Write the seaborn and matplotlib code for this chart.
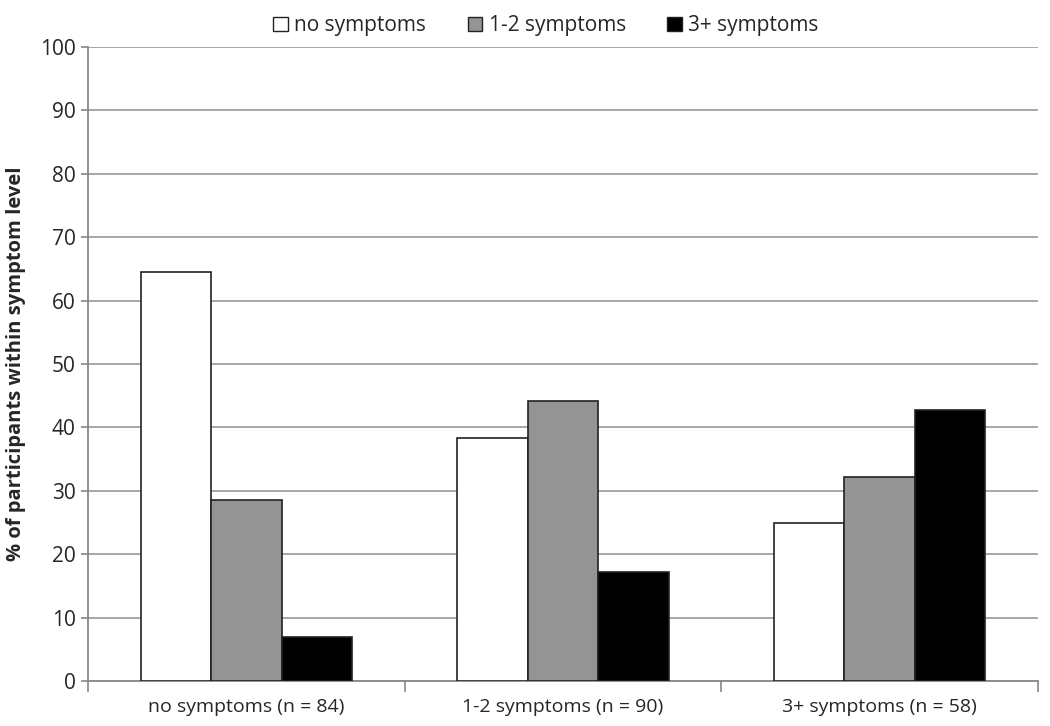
import matplotlib
matplotlib.use("Agg")
import matplotlib.pyplot as plt
import seaborn as sns
import pandas as pd
from matplotlib.patches import Patch

groups = ["no symptoms (n = 84)", "1-2 symptoms (n = 90)", "3+ symptoms (n = 58)"]
series = ["no symptoms", "1-2 symptoms", "3+ symptoms"]
no_sym = [64.5, 38.4, 24.9]
one_two = [28.6, 44.2, 32.1]
three_plus = [7.0, 17.2, 42.8]
yticks = [0, 10, 20, 30, 40, 50, 60, 70, 80, 90, 100]

colors = ["#ffffff", "#949494", "#000000"]

rows = []
for s, vals in zip(series, [no_sym, one_two, three_plus]):
    for g, v in zip(groups, vals):
        rows.append({"group": g, "series": s, "value": v})
df = pd.DataFrame(rows)

sns.set_theme(style="white")
plt.rcParams['font.family'] = ['Open Sans', 'DejaVu Sans']

fig = plt.figure(figsize=(10.5, 7.26), dpi=100)
ax = fig.add_axes([88/1050, 1-681/726, 950/1050, 634/726])

sns.barplot(data=df, x="group", y="value", hue="series", order=groups,
            hue_order=series, palette=colors, width=0.667, gap=0,
            edgecolor="#222222", linewidth=1.2, ax=ax, legend=False, zorder=3)

ax.set_ylim(0, 100)
ax.set_xlim(-0.5, 2.5)
ax.set_yticks(yticks)
ax.yaxis.grid(True, color="#a0a0a0", linewidth=1.3, zorder=0)
ax.set_axisbelow(True)
ax.set_xlabel("")
ax.set_ylabel("% of participants within symptom level", fontsize=14.5,
              fontweight="bold", labelpad=10)
ax.tick_params(axis="y", labelsize=15, length=5, color="#888888", width=1.2, pad=4,
               direction="out", left=True)
ax.tick_params(axis="x", labelsize=14, length=0, pad=12)
for sp in ["top", "right"]:
    ax.spines[sp].set_visible(False)
for sp in ["left", "bottom"]:
    ax.spines[sp].set_color("#888888")
    ax.spines[sp].set_linewidth(1.3)

# category boundary tick marks (Excel style)
ax.set_xticks([-0.5, 0.5, 1.5, 2.5], minor=True)
ax.tick_params(axis="x", which="minor", length=8, color="#888888", width=1.2, direction="out", bottom=True)

handles = [Patch(facecolor=c, edgecolor="#222222", linewidth=1.0) for c in colors]
fig.legend(handles, series, loc="upper center", bbox_to_anchor=(0.52, 1.005), ncol=3,
           frameon=False, fontsize=15, handlelength=0.7, handleheight=0.7,
           handletextpad=0.3, columnspacing=2.0)

fig.savefig("out.png", dpi=100)
